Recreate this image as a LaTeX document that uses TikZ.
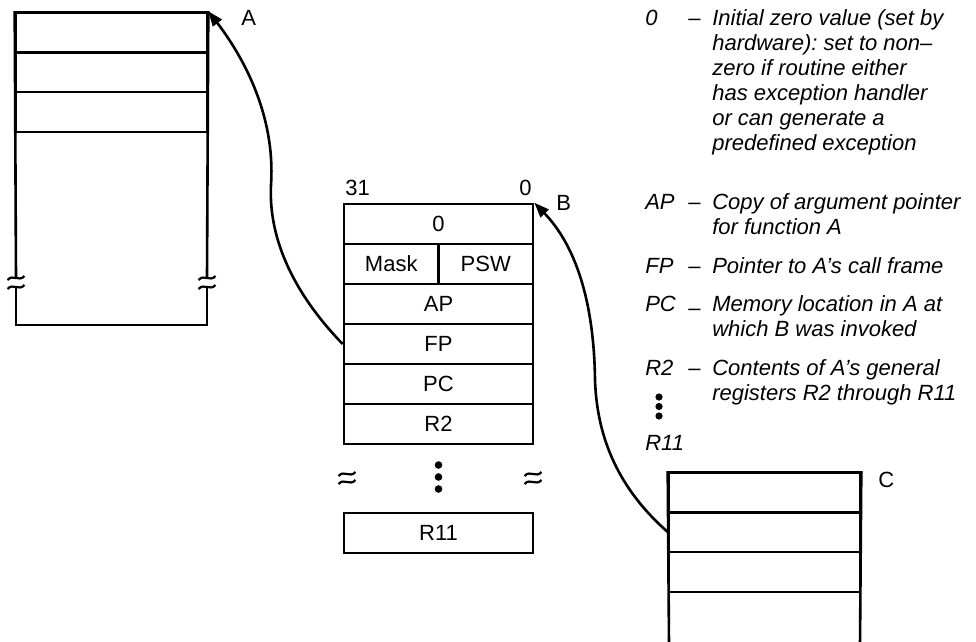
\documentclass[tikz,border=0pt]{standalone}
\usepackage{fontspec}
\setmainfont{Liberation Sans}
\usetikzlibrary{arrows.meta}
\frenchspacing
\newcommand\lgline[3]{\node[lg] (#1) at (711,#2) {#3};}
\newcommand\lgkey[3]{\node[lg] (#1k) at (644,#2) {#3};\node[lg] (#1d) at (687,#2) {\textendash};}
\newcommand\wavy[2]{%
  \draw[brk] (#1-8.5,#2+2) .. controls (#1-3,#2-4.5) and (#1+3,#2+4.5) .. (#1+8.5,#2-2);}
\begin{document}
\begin{tikzpicture}[x=1pt,y=-1pt,line width=2.6pt,
  cell/.style={draw,rectangle,minimum width=#1,minimum height=40pt,inner sep=0pt,
    font=\fontsize{22}{25}\selectfont},
  cell/.default=189pt,
  lab/.style={inner sep=0pt,font=\fontsize{22}{25}\selectfont},
  lg/.style={inner sep=0pt,anchor=base west,font=\fontsize{22}{25}\selectfont\itshape},
  arr/.style={-{Triangle[length=15pt,width=11pt]}},
  brk/.style={line width=2.2pt}]
\useasboundingbox (0,0) rectangle (976,641);

% ---- left stack (A)
\node[cell=191pt] (a1) at (111.5,32.5) {};
\node[cell=191pt] (a2) at (111.5,72) {};
\node[cell=191pt] (a3) at (111.5,112) {};
\draw (a1.north west) -- (16,277);
\draw (a1.north east) -- (207,277);
\draw[line join=miter] (16,287) -- (16,325) -- (207,325) -- (207,287);
\foreach \xx in {16,207}{
  \wavy{\xx}{278}
  \wavy{\xx}{287}
}
\node[lab,anchor=base west] (lA) at (240,25) {A};

% ---- middle stack (B)
\node[lab,anchor=base west] (n31) at (344,195) {31};
\node[lab,anchor=base east] (n0) at (533,195) {0};
\node[lab,anchor=base west] (lB) at (555,210) {B};
\node[cell] (r0) at (438.5,224) {0};
\node[cell=94.5pt] (mask) at (391.25,264) {Mask};
\node[cell=94.5pt] (psw) at (485.75,264) {PSW};
\node[cell] (ap) at (438.5,304) {AP};
\node[cell] (fp) at (438.5,344) {FP};
\node[cell] (pc) at (438.5,384) {PC};
\node[cell] (r2) at (438.5,424) {R2};
\coordinate (ax1) at (347,478);
\coordinate (ax2) at (533,478);
\wavy{347}{474}\wavy{347}{482}
\wavy{533}{474}\wavy{533}{482}
\fill (438.5,465) circle (3.8) (438.5,477) circle (3.8) (438.5,489) circle (3.8);
\node[cell] (r11) at (438.5,533) {R11};

% ---- bottom right stack (C)
\node[cell=191pt] (c1) at (764.5,492.5) {};
\node[cell=191pt] (c2) at (764.5,532) {};
\node[cell=191pt] (c3) at (764.5,572) {};
\draw (c1.north west) -- (669,645);
\draw (c1.north east) -- (860,645);
\node[lab,anchor=base west] (lC) at (877,487) {C};

% ---- links
\draw[arr] (fp.west) .. controls (300,300) and (268,245) .. (271,185)
   .. controls (276,110) and (238,50) .. (a1.north east);
\draw[arr] (c2.west) .. controls (620,490) and (597,440) .. (595,380)
   .. controls (594,300) and (575,245) .. (r0.north east);

% ---- legend
\lgkey{k0}{25}{0}
\lgline{t1}{25}{Initial zero value (set by}
\lgline{t2}{50}{hardware): set to non\textendash}
\lgline{t3}{75}{zero if routine either}
\lgline{t4}{100}{has exception handler}
\lgline{t5}{125}{or can generate a}
\lgline{t6}{150}{predefined exception}
\lgkey{kap}{209}{AP}
\lgline{t7}{209}{Copy of argument pointer}
\lgline{t8}{234}{for function A}
\lgkey{kfp}{273}{FP}
\lgline{t9}{273}{Pointer to A's call frame}
\node[lg] (kpck) at (644,311) {PC};
\node[lg] (kpcd) at (687,315) {\textendash};
\lgline{t10}{311}{Memory location in A at}
\lgline{t11}{336}{which B was invoked}
\lgkey{kr2}{375}{R2}
\lgline{t12}{375}{Contents of A's general}
\lgline{t13}{400}{registers R2 through R11}
\fill (659,397) circle (3.6) (659,406.5) circle (3.6) (659,416) circle (3.6);
\node[lg] (kr11) at (644,450) {R11};
\end{tikzpicture}
\end{document}
